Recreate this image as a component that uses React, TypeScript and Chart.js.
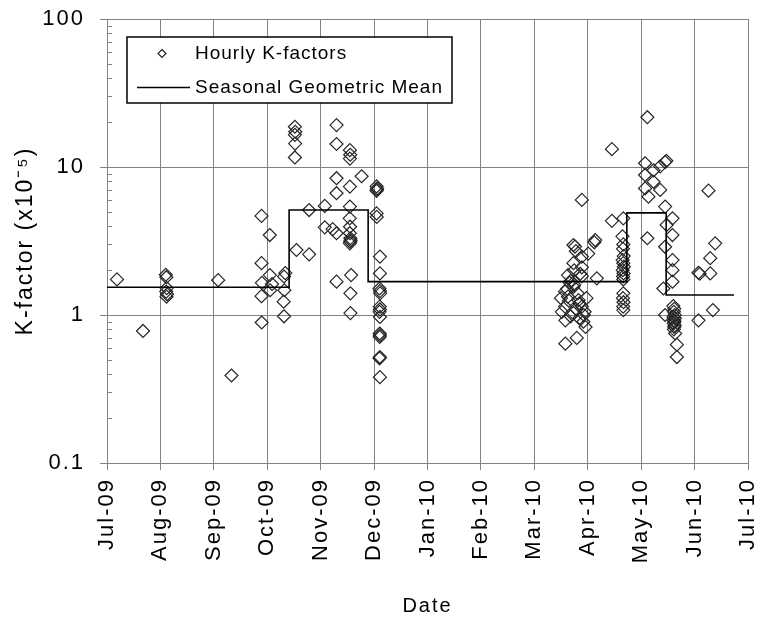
import React, { useEffect, useRef } from "react";
import { Chart, registerables } from "chart.js";

Chart.register(...registerables);

// ---------- data ----------
// x axis: days since 1 Jul 2009; axis runs Jul-09 .. Jul-10 with 13 evenly spaced month ticks
const MONTH_LABELS = [
  "Jul-09", "Aug-09", "Sep-09", "Oct-09", "Nov-09", "Dec-09",
  "Jan-10", "Feb-10", "Mar-10", "Apr-10", "May-10", "Jun-10", "Jul-10",
];
const X_MAX_DAYS = 365;
const Y_TICKS = [0.1, 1, 10, 100];

// Hourly K-factors (x10^-5): day offset and value
const K_DAYS = [
  5.7, 20.5,
  33.5, 33.8, 34.0, 33.7, 34.2, 33.9,
  63.3, 70.9,
  88.0, 88.0, 88.2, 88.0, 88.1,
  92.7, 92.7, 92.9, 94.0,
  101.5, 100.8, 101.0, 100.6, 100.8,
  107.0, 107.2, 107.0, 107.1, 107.0, 107.9,
  115.1, 115.1,
  124.0, 124.0,
  130.7, 130.7, 130.7, 130.7, 130.7, 130.7, 128.5,
  138.3, 138.5, 138.3, 138.3, 138.3, 138.2, 138.4, 138.3, 138.6, 138.5, 138.3, 138.7, 139.0, 138.6, 138.6,
  145.0,
  153.5, 153.8, 153.5, 153.7, 153.5, 153.6, 155.4, 155.4, 155.2, 155.4, 155.5, 155.3, 155.4, 155.2, 155.4, 155.3, 155.4, 155.3, 155.4, 155.2, 155.4,
  // Apr-10 cluster
  265.6, 266.5, 278.0, 277.5, 270.4, 270.4, 265.6, 270.4, 262.5, 270.4, 278.9, 265.6, 260.8, 262.5, 268.5,
  260.8, 270.4, 265.6, 271.5, 261.0, 271.3, 272.5, 267.5, 261.0, 264.0, 266.0, 268.0, 269.0, 263.0, 267.0,
  264.0, 269.0, 272.0, 266.0, 262.0, 258.5, 259.0, 273.0, 274.0, 267.0, 263.5, 269.5,
  287.5, 287.5, 294.0,
  // late Apr / early May cluster
  293.5, 294.0, 293.8, 294.2, 293.6, 294.0, 294.3, 293.7, 294.1, 293.9, 294.0, 294.0, 293.8, 294.1, 293.9, 294.0,
  // May-10 group
  306.4, 306.4, 306.4, 308.3, 311.2, 311.2, 315.0, 315.0, 317.8, 318.5, 307.7, 307.7, 317.8, 322.0, 318.7,
  322.0, 317.8, 322.0, 322.0, 322.0, 316.8,
  322.5, 323.0, 322.8, 323.2, 322.6, 323.4, 322.9, 323.1, 322.7, 323.3, 323.0, 322.8, 323.5, 324.5, 324.5, 317.8,
  // Jun-10 group
  342.5, 346.3, 343.5, 343.5, 336.8, 337.5, 345.0, 336.8,
];
const K_VALUES = [
  1.74, 0.78,
  1.87, 1.80, 1.52, 1.44, 1.38, 1.33,
  1.72, 0.39,
  4.67, 2.24, 1.65, 1.34, 0.89,
  3.47, 1.86, 1.47, 1.62,
  1.92, 1.82, 1.47, 1.23, 0.98,
  18.7, 17.3, 16.5, 14.4, 11.6, 2.75,
  2.57, 5.12,
  5.46, 3.91,
  19.2, 14.3, 8.4, 6.65, 3.57, 1.68, 3.8,
  13.0, 12.1, 11.4, 7.37, 5.4, 4.5, 3.95, 3.57, 3.30, 3.13, 3.05, 3.2, 1.86, 1.40, 1.03,
  8.66,
  7.4, 7.17, 6.9, 7.0, 4.86, 4.6, 2.48, 1.91, 1.51, 1.45, 1.40, 1.14, 1.09, 1.05, 0.97, 0.75, 0.73, 0.71, 0.52, 0.51, 0.38,
  // Apr-10 cluster
  2.97, 2.9, 3.21, 3.1, 5.99, 2.48, 2.24, 2.1, 1.86, 1.83, 1.77, 1.55, 1.44, 1.33, 1.26,
  1.14, 1.14, 1.03, 1.0, 0.92, 0.90, 0.83, 0.70, 0.64, 1.7, 1.6, 1.4, 1.2, 1.25, 1.1,
  0.98, 0.95, 1.05, 2.0, 1.5, 1.3, 1.05, 1.3, 2.6, 2.7, 1.65, 1.9,
  13.2, 4.33, 4.5,
  // late Apr / early May cluster
  3.4, 3.0, 2.8, 2.5, 2.35, 2.24, 2.12, 2.01, 1.91, 1.82, 1.74, 1.4, 1.3, 1.22, 1.14, 1.08,
  // May-10 group
  10.6, 8.83, 7.17, 6.3, 9.5, 7.95, 7.0, 10.1, 10.8, 11.0, 21.7, 3.30, 5.4, 4.5, 4.06,
  3.47, 2.89, 2.35, 2.01, 1.68, 1.51,
  1.15, 1.1, 1.05, 1.0, 0.97, 0.95, 0.92, 0.9, 0.88, 0.85, 0.83, 0.8, 0.75, 0.63, 0.52, 1.0,
  // Jun-10 group
  6.92, 3.05, 2.42, 1.91, 1.93, 1.9, 1.08, 0.92,
];

// Seasonal geometric mean: season start day and mean value; last season ends at SEASON_END
const SEASON_START = [0, 103.7, 148.7, 296.0, 318.4];
const SEASON_MEAN = [1.54, 5.12, 1.68, 4.9, 1.365];
const SEASON_END = 357;

const SERIES_POINTS = "Hourly K-factors";
const SERIES_MEAN = "Seasonal Geometric Mean";

// ---------- styling ----------
const FONT = "'Liberation Sans', Arial, sans-serif";
const GRID = "#828282";
const MARK = "#262626";

const spacingPlugin = {
  id: "spacing",
  beforeUpdate(chart: any) {
    chart.ctx.letterSpacing = "2px";
  },
  beforeDraw(chart: any) {
    chart.ctx.letterSpacing = "2px";
  },
};

const minorTickPlugin = {
  id: "minorTicks",
  afterDatasetsDraw(chart: any) {
    const ys = chart.scales.y;
    const left = chart.chartArea.left;
    const ctx = chart.ctx;
    ctx.save();
    ctx.strokeStyle = GRID;
    ctx.lineWidth = 1;
    ctx.beginPath();
    for (let d = 0; d < Y_TICKS.length - 1; d++) {
      for (let k = 2; k <= 9; k++) {
        const y = Math.round(ys.getPixelForValue(Y_TICKS[d] * k)) + 0.5;
        ctx.moveTo(left, y);
        ctx.lineTo(left + 5, y);
      }
    }
    ctx.stroke();
    ctx.restore();
  },
};

const boxLegendPlugin = {
  id: "boxLegend",
  afterDatasetsDraw(chart: any) {
    const ctx = chart.ctx;
    const { left, top } = chart.chartArea;
    const x0 = left + 20;
    const y0 = top + 18;
    const w = 325;
    const h = 66;
    ctx.save();
    ctx.fillStyle = "#ffffff";
    ctx.fillRect(x0, y0, w, h);
    ctx.strokeStyle = "#000000";
    ctx.lineWidth = 1.5;
    ctx.strokeRect(x0, y0, w, h);

    const ds = chart.data.datasets;
    ctx.font = `19px ${FONT}`;
    ctx.letterSpacing = "1px";
    ctx.fillStyle = "#000";
    ctx.textBaseline = "middle";
    ctx.textAlign = "left";

    // entry 1: diamond
    const r1y = y0 + 16.5;
    const cx = x0 + 35;
    const r = 4;
    ctx.strokeStyle = MARK;
    ctx.lineWidth = 1.2;
    ctx.beginPath();
    ctx.moveTo(cx, r1y - r);
    ctx.lineTo(cx + r, r1y);
    ctx.lineTo(cx, r1y + r);
    ctx.lineTo(cx - r, r1y);
    ctx.closePath();
    ctx.stroke();
    ctx.fillText(ds[0].label, x0 + 68, r1y);

    // entry 2: line
    const r2y = y0 + 50.5;
    ctx.strokeStyle = "#000";
    ctx.lineWidth = 1.5;
    ctx.beginPath();
    ctx.moveTo(x0 + 10, r2y);
    ctx.lineTo(x0 + 63, r2y);
    ctx.stroke();
    ctx.fillText(ds[1].label, x0 + 68, r2y);
    ctx.restore();
  },
};

const zeroPad = (s: any) => {
  s.paddingLeft = 0;
  s.paddingRight = 0;
  s.paddingTop = 0;
  s.paddingBottom = 0;
};

export default function App() {
  const ref = useRef<HTMLCanvasElement | null>(null);

  useEffect(() => {
    if (!ref.current) return;
    const points = K_DAYS.map((d, i) => ({ x: d, y: K_VALUES[i] }));
    const meanLine: { x: number; y: number }[] = [];
    SEASON_START.forEach((s, i) => {
      const end = i + 1 < SEASON_START.length ? SEASON_START[i + 1] : SEASON_END;
      meanLine.push({ x: s, y: SEASON_MEAN[i] });
      meanLine.push({ x: end, y: SEASON_MEAN[i] });
    });
    const monthStep = X_MAX_DAYS / (MONTH_LABELS.length - 1);

    const chart = new Chart(ref.current, {
      type: "scatter",
      data: {
        datasets: [
          {
            label: SERIES_POINTS,
            data: points,
            pointStyle: "rectRot",
            pointRadius: 6.5,
            borderWidth: 1.2,
            borderColor: MARK,
            backgroundColor: "rgba(0,0,0,0)",
            showLine: false,
            order: 1,
          } as any,
          {
            label: SERIES_MEAN,
            type: "line",
            data: meanLine,
            borderColor: "#000",
            borderWidth: 1.6,
            pointRadius: 0,
            showLine: true,
            fill: false,
            tension: 0,
            order: 0,
          } as any,
        ],
      },
      options: {
        responsive: false,
        animation: false,
        devicePixelRatio: 1,
        layout: { padding: { left: 0, right: 15, top: 19, bottom: 0 } },
        plugins: {
          legend: { display: false },
          tooltip: { enabled: false },
        },
        scales: {
          x: {
            type: "linear",
            min: 0,
            max: X_MAX_DAYS,
            afterBuildTicks: (s: any) => {
              s.ticks = MONTH_LABELS.map((_, i) => ({ value: i * monthStep }));
            },
            afterFit: (s: any) => {
              s.height = 161;
              zeroPad(s);
            },
            ticks: {
              autoSkip: false,
              minRotation: 90,
              maxRotation: 90,
              padding: 8,
              color: "#000",
              font: { family: FONT, size: 22 },
              callback: (v: any) => MONTH_LABELS[Math.round(Number(v) / monthStep)],
            },
            grid: { color: GRID, lineWidth: 1, tickLength: 7, tickColor: GRID },
            border: { color: GRID, width: 1 },
            title: {
              display: true,
              text: "Date",
              color: "#000",
              font: { family: FONT, size: 20 },
              padding: { top: 0, bottom: 6 },
            },
          },
          y: {
            type: "logarithmic",
            min: 0.1,
            max: 100,
            afterBuildTicks: (s: any) => {
              s.ticks = Y_TICKS.map((v) => ({ value: v }));
            },
            afterFit: (s: any) => {
              s.width = 107;
              zeroPad(s);
            },
            ticks: {
              autoSkip: false,
              padding: 15,
              color: "#000",
              font: { family: FONT, size: 22 },
              callback: (v: any) => String(v),
            },
            grid: { color: GRID, lineWidth: 1, tickLength: 7, tickColor: GRID },
            border: { color: GRID, width: 1 },
            title: {
              display: true,
              text: "K-factor (x10\u207B\u2075)",
              color: "#000",
              font: { family: FONT, size: 23 },
              padding: { top: 12, bottom: 0 },
            },
          },
        },
      } as any,
      plugins: [spacingPlugin, minorTickPlugin, boxLegendPlugin],
    });
    return () => chart.destroy();
  }, []);

  return (
    <div style={{ position: "absolute", left: 0, top: 0, width: 763, height: 624, background: "#fff" }}>
      <canvas ref={ref} width={763} height={624} />
    </div>
  );
}
